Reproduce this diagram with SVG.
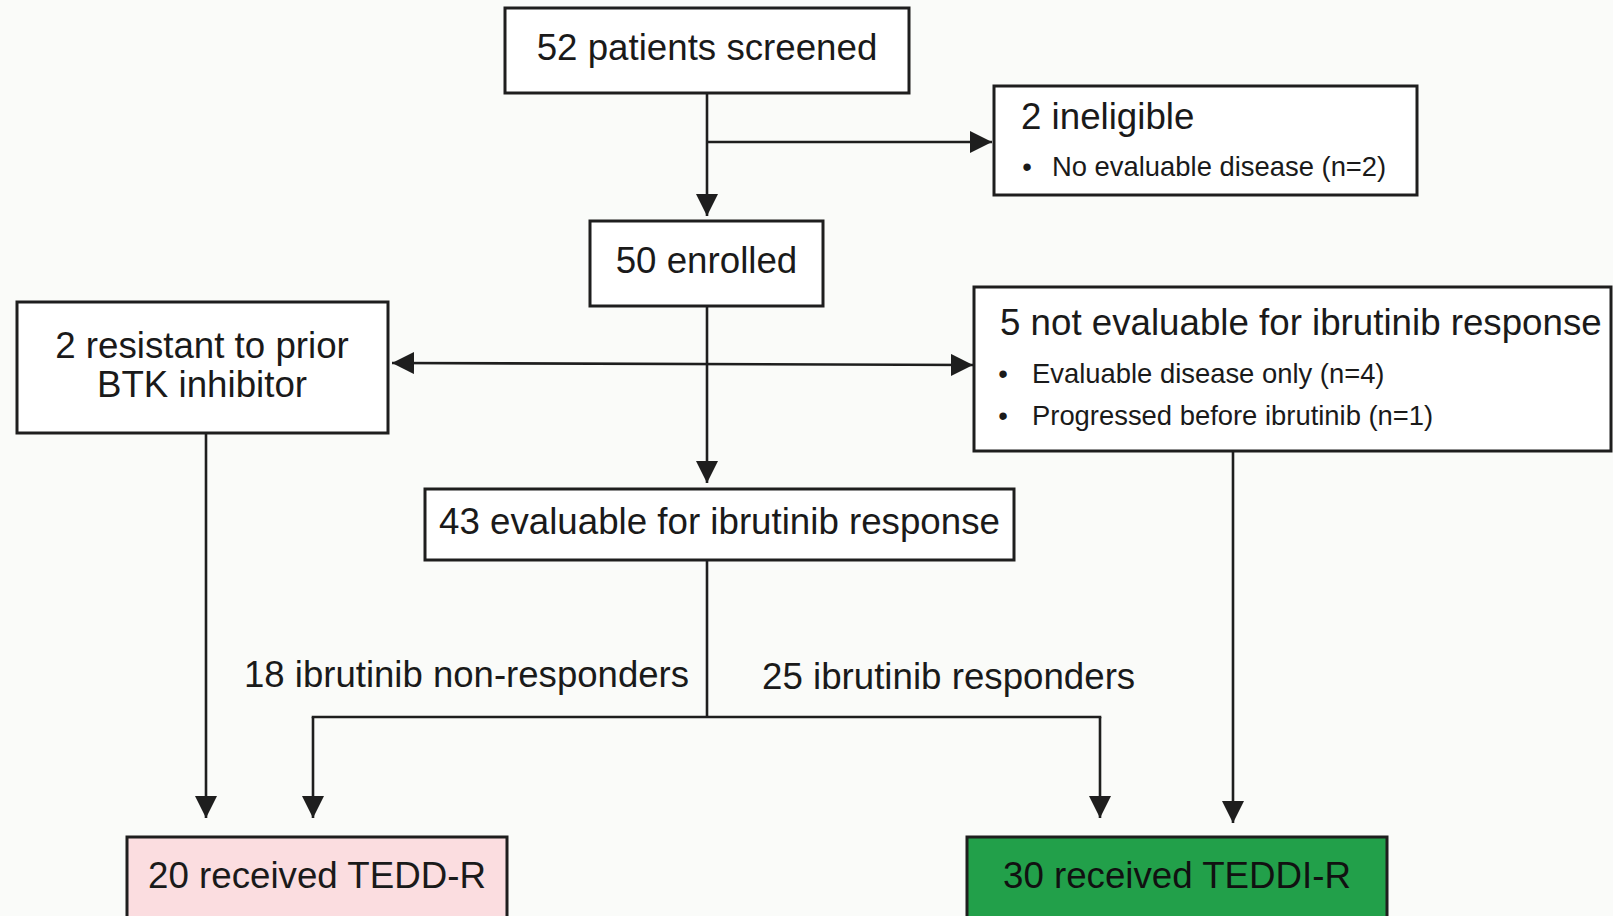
<svg xmlns="http://www.w3.org/2000/svg" width="1613" height="916" viewBox="0 0 1613 916">
<defs>
<style>
.box{fill:#ffffff;stroke:#1e1e1e;stroke-width:3}
.t{font-family:"Liberation Sans",Arial,Helvetica,sans-serif;font-size:36.7px;fill:#1a1a1a}
.s{font-family:"Liberation Sans",Arial,Helvetica,sans-serif;font-size:27.4px;fill:#1a1a1a}
.c{text-anchor:middle}
.ln{fill:none;stroke:#1e1e1e;stroke-width:2.6}
.ar{marker-end:url(#ah)}
</style>
<marker id="ah" markerUnits="userSpaceOnUse" markerWidth="22" markerHeight="22" refX="22" refY="11" orient="auto-start-reverse" viewBox="0 0 22 22">
<path d="M0,0 L22,11 L0,22 z" fill="#1e1e1e"/>
</marker>
</defs>
<rect x="0" y="0" width="1613" height="916" fill="#fafbf9"/>

<g id="connectors">
<line class="ln ar" x1="707" y1="93" x2="707" y2="216"/>
<line class="ln ar" x1="707" y1="142" x2="992" y2="142"/>
<line class="ln ar" x1="707" y1="306" x2="707" y2="483"/>
<line class="ln ar" x1="392" y1="363" x2="973" y2="365" style="marker-start:url(#ah)"/>
<line class="ln ar" x1="206" y1="433" x2="206" y2="818"/>
<line class="ln ar" x1="1233" y1="451" x2="1233" y2="823"/>
<polyline class="ln" points="707,560 707,717"/>
<line class="ln ar" x1="313" y1="717" x2="313" y2="818"/>
<line class="ln ar" x1="1100" y1="717" x2="1100" y2="818"/>
<line class="ln" x1="311.7" y1="717" x2="1101.3" y2="717"/>
<text class="t" x="244" y="687" textLength="445" lengthAdjust="spacingAndGlyphs">18 ibrutinib non-responders</text>
<text class="t" x="762" y="689">25 ibrutinib responders</text>
</g>

<g id="n-screened">
<rect class="box" x="505" y="8" width="404" height="85"/>
<text class="t c" x="707" y="60">52 patients screened</text>
</g>

<g id="n-ineligible">
<rect class="box" x="994" y="86" width="423" height="109"/>
<text class="t" x="1021" y="129">2 ineligible</text>
<text class="s c" x="1027" y="176">•</text>
<text class="s" x="1052" y="176">No evaluable disease (n=2)</text>
</g>

<g id="n-enrolled">
<rect class="box" x="590" y="221" width="233" height="85"/>
<text class="t c" x="706.5" y="273">50 enrolled</text>
</g>

<g id="n-resistant">
<rect class="box" x="17" y="302" width="371" height="131"/>
<text class="t c" x="202" y="358">2 resistant to prior</text>
<text class="t c" x="202" y="397">BTK inhibitor</text>
</g>

<g id="n-notevaluable">
<rect class="box" x="974" y="287" width="637" height="164"/>
<text class="t" x="1000" y="335">5 not evaluable for ibrutinib response</text>
<text class="s c" x="1003" y="383">•</text>
<text class="s" x="1032" y="383">Evaluable disease only (n=4)</text>
<text class="s c" x="1003" y="425">•</text>
<text class="s" x="1032" y="425">Progressed before ibrutinib (n=1)</text>
</g>

<g id="n-evaluable">
<rect class="box" x="425" y="489" width="589" height="71"/>
<text class="t c" x="719.5" y="534">43 evaluable for ibrutinib response</text>
</g>

<g id="n-teddr">
<rect class="box" x="127" y="837" width="380" height="100" style="fill:#fbdde0"/>
<text class="t c" x="317" y="888">20 received TEDD-R</text>
</g>

<g id="n-teddir">
<rect class="box" x="967" y="837" width="420" height="100" style="fill:#22a04a"/>
<text class="t c" x="1177" y="888" style="fill:#111">30 received TEDDI-R</text>
</g>
</svg>
